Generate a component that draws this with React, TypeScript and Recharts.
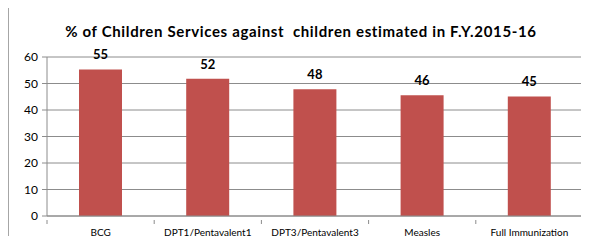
import { BarChart, Bar, XAxis, YAxis, CartesianGrid, LabelList } from "recharts";

const categories = ["BCG", "DPT1/Pentavalent1", "DPT3/Pentavalent3", "Measles", "Full Immunization"];
const coverage = [55.3, 51.8, 47.8, 45.6, 45.1];
const yTicks = [0, 10, 20, 30, 40, 50, 60];

const W = 589;
const H = 244;
const M = { top: 57, right: 6, bottom: 8, left: 7 };
const Y_W = 40;
const X_H = 20;
const BAR = "#C0504D";
const AXIS = "#8c8c8c";
const FONT = "Lato, 'Open Sans', sans-serif";

const data = categories.map((name, i) => ({ name, v: coverage[i] }));
const band = (W - M.left - Y_W - M.right) / categories.length;

function CatTick(props: any) {
  const { x, y, payload, index } = props;
  const lx = x - band / 2;
  const last = index === categories.length - 1;
  return (
    <g>
      <line x1={lx} y1={y - 4} x2={lx} y2={y} stroke={AXIS} />
      {last && <line x1={x + band / 2} y1={y - 4} x2={x + band / 2} y2={y} stroke={AXIS} />}
      <text x={x} y={y + 12} textAnchor="middle" fontSize={10} fill="#000" fontFamily={FONT}>
        {payload.value}
      </text>
    </g>
  );
}

export default function App() {
  return (
    <div style={{ position: "relative", width: W, height: H, margin: -8, background: "#fff", overflow: "hidden" }}>
      <div style={{ position: "absolute", left: 0, top: 0 }}>
        <BarChart width={W} height={H} data={data} margin={M} barCategoryGap="30%">
          <CartesianGrid vertical={false} stroke={AXIS} strokeDasharray="" />
          <XAxis
            dataKey="name"
            height={X_H}
            stroke={AXIS}
            tickLine={false}
            tick={<CatTick />}
            interval={0}
          />
          <YAxis
            width={Y_W}
            domain={[0, 60]}
            ticks={yTicks}
            stroke={AXIS}
            tickSize={5}
            tickMargin={4}
            tick={{ fill: "#000", fontSize: 12, fontFamily: FONT }}
          />
          <Bar dataKey="v" fill={BAR} barSize={43} isAnimationActive={false}>
            <LabelList
              dataKey="v"
              position="top"
              offset={10}
              formatter={(v: any) => Math.round(v)}
              style={{ fill: "#000", fontWeight: 700, fontSize: 13, fontFamily: FONT }}
            />
          </Bar>
        </BarChart>
      </div>
      <div style={{
        position: "absolute", left: 0, width: 602, top: 22, textAlign: "center",
        fontFamily: FONT, fontWeight: 700, fontSize: 15, letterSpacing: 0.65, color: "#000", whiteSpace: "pre",
        pointerEvents: "none",
      }}>
        {"% of Children Services against  children estimated in F.Y.2015-16"}
      </div>
      <div style={{ position: "absolute", left: 6, top: 0, width: 600, height: 2, background: "#a6a6a6", pointerEvents: "none" }} />
      <div style={{ position: "absolute", left: 7, top: 5, width: 600, height: 2, background: "#a6a6a6", pointerEvents: "none" }} />
      <div style={{ position: "absolute", left: 7, top: 5, width: 2, height: 260, background: "#a6a6a6", pointerEvents: "none" }} />
    </div>
  );
}
